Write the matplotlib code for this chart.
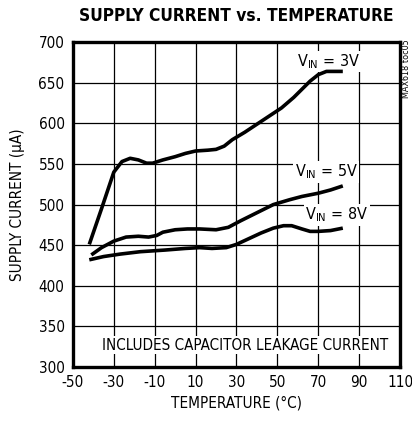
import numpy as np
import matplotlib
matplotlib.use("Agg")
import matplotlib.pyplot as plt

plt.rcParams['font.family'] = ['DejaVu Sans']
plt.rcParams['font.stretch'] = 'condensed'
plt.rcParams['axes.unicode_minus'] = False

# values (temperature in C, current in uA)
t_3v = [-42, -36, -30, -26, -22, -18, -14, -11, -6, 0, 5, 10, 16, 20, 24, 28, 34, 40, 46, 52, 58, 62, 66, 70, 74, 78, 82]
i_3v = [451, 495, 540, 553, 557, 555, 551, 551, 555, 559, 563, 566, 567, 568, 572, 580, 589, 599, 609, 619, 632, 642, 652, 660, 664, 664, 664]

t_5v = [-41, -36, -30, -24, -18, -13, -9, -6, 0, 6, 12, 20, 26, 32, 40, 48, 56, 62, 70, 76, 82]
i_5v = [438, 447, 455, 460, 461, 460, 462, 466, 469, 470, 470, 469, 472, 480, 490, 500, 506, 510, 514, 518, 523]

t_8v = [-42, -35, -27, -17, -5, 5, 12, 18, 25, 30, 36, 42, 48, 53, 57, 62, 66, 70, 76, 82]
i_8v = [432, 436, 439, 442, 444, 446, 447, 446, 447, 451, 458, 465, 471, 474, 474, 470, 467, 467, 468, 471]

xticks = [-50, -30, -10, 10, 30, 50, 70, 90, 110]
yticks = [300, 350, 400, 450, 500, 550, 600, 650, 700]

fig = plt.figure(figsize=(4.12, 4.26), dpi=100)
ax = fig.add_axes([0.177, 0.1385, 0.794, 0.7625])

for t, i in [(t_3v, i_3v), (t_5v, i_5v), (t_8v, i_8v)]:
    ax.plot(t, i, color='black', lw=2.6, solid_capstyle='butt', zorder=3)

ax.set_xlim(-50, 110)
ax.set_ylim(300, 700)
ax.set_xticks(xticks)
ax.set_yticks(yticks)
ax.grid(True, color='black', lw=0.9)
ax.tick_params(direction='in', length=0, labelsize=11, pad=6)
for s in ax.spines.values():
    s.set_linewidth(2.4)

# labels sit above the grid but under the curves
box = dict(facecolor='white', edgecolor='none', pad=1)
ax.text(75, 676, r'V$_{\mathregular{IN}}$ = 3V', ha='center', va='center', fontsize=11.5, bbox=box, zorder=2.5)
ax.text(74, 540, r'V$_{\mathregular{IN}}$ = 5V', ha='center', va='center', fontsize=11.5, bbox=box, zorder=2.5)
ax.text(79, 487, r'V$_{\mathregular{IN}}$ = 8V', ha='center', va='center', fontsize=11.5, bbox=box, zorder=2.5)
ax.text(34, 327, 'INCLUDES CAPACITOR LEAKAGE CURRENT', ha='center', va='center', fontsize=10.9, bbox=box, zorder=2.5)

ax.set_xlabel('TEMPERATURE (°C)', fontsize=11, labelpad=4)
ax.set_ylabel('SUPPLY CURRENT (µA)', fontsize=11)
ax.yaxis.set_label_coords(-0.148, 0.5)
fig.text(0.573, 0.963, 'SUPPLY CURRENT vs. TEMPERATURE', ha='center', va='center',
         fontsize=12.4, fontweight='bold')
fig.text(0.987, 0.908, 'MAX618 toc05', rotation=90, ha='center', va='top', fontsize=6.5)

fig.savefig('out.png', dpi=100)
